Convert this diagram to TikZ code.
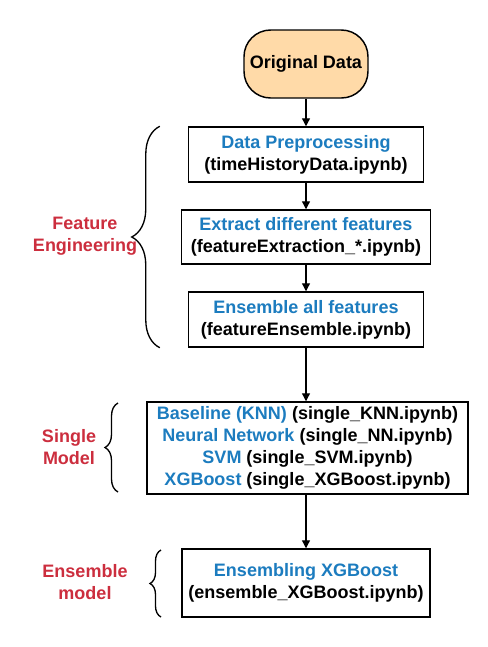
\documentclass[tikz,border=0pt]{standalone}
\usepackage{fontspec}
\setmainfont{Liberation Sans}
\usetikzlibrary{arrows.meta, positioning, decorations.pathreplacing}
\definecolor{cblue}{HTML}{1C7CBF}
\definecolor{cred}{HTML}{CC2E3E}
\definecolor{cpeach}{HTML}{FFDAA8}
\tikzset{
  every picture/.style={x=0.75pt, y=-0.75pt, line width=1.1pt},
  every node/.append style={font=\fontsize{13.5}{16.5}\selectfont\bfseries},
  box/.style={draw=black, fill=white, align=center, inner sep=2pt},
  startbox/.style={draw=black, fill=cpeach, rounded corners=20pt, align=center,
    minimum width=93pt, minimum height=51pt},
  arrow/.style={-{Triangle[length=6pt, width=6pt]}, line width=0.9pt},
  curly/.style={decorate, decoration={brace, amplitude=#1}, line width=1pt},
  side/.style={text=cred, align=center},
}

\begin{document}
\begin{tikzpicture}
  \useasboundingbox (0,0) rectangle (487,647);
  % main flow
  \node[startbox] (orig) at (306,64) {Original Data};
  \node[box, minimum width=176.25pt, minimum height=41.25pt] (prep) at (306,154.5)
    {\textcolor{cblue}{Data Preprocessing}\\(timeHistoryData.ipynb)};
  \node[box, minimum width=186.75pt, minimum height=40.5pt] (extract) at (306,237)
    {\textcolor{cblue}{Extract different features}\\(featureExtraction\_*.ipynb)};
  \node[box, minimum width=176.25pt, minimum height=41.25pt] (ensfeat) at (306,319.5)
    {\textcolor{cblue}{Ensemble all features}\\(featureEnsemble.ipynb)};
  \node[box, minimum width=240.75pt, minimum height=69pt] (single) at (307.5,448)
    {\textcolor{cblue}{Baseline (KNN)} (single\_KNN.ipynb)\\
     \textcolor{cblue}{Neural Network} (single\_NN.ipynb)\\
     \textcolor{cblue}{SVM} (single\_SVM.ipynb)\\
     \textcolor{cblue}{XGBoost} (single\_XGBoost.ipynb)};
  \node[box, minimum width=186pt, minimum height=51pt] (ensmodel) at (306,583)
    {\textcolor{cblue}{Ensembling XGBoost}\\(ensemble\_XGBoost.ipynb)};

  \draw[arrow] (orig) -- (prep);
  \draw[arrow] (prep) -- (extract);
  \draw[arrow] (extract) -- (ensfeat);
  \draw[arrow] (ensfeat.south) -- (ensfeat.south |- single.north);
  \draw[arrow] (single.south -| ensmodel.north) -- (ensmodel);

  % braces and group labels
  \coordinate (fetop) at ([xshift=-21pt]prep.north west);
  \coordinate (febot) at ([xshift=-21pt]ensfeat.south west);
  \coordinate (smtop) at (118,403);
  \coordinate (smbot) at (118,492);
  \coordinate (emtop) at (161,550);
  \coordinate (embot) at (161,617);
  \draw[curly=21pt] (febot) -- (fetop);
  \draw[curly=9.75pt] (smbot) -- (smtop);
  \draw[curly=8.25pt] (embot) -- (emtop);

  \node[side] (lblfeat) at (85,236) {Feature\\Engineering};
  \node[side] (lblsingle) at (69,447) {Single\\Model};
  \node[side] (lblens) at (85,582) {Ensemble\\model};
\end{tikzpicture}
\end{document}
